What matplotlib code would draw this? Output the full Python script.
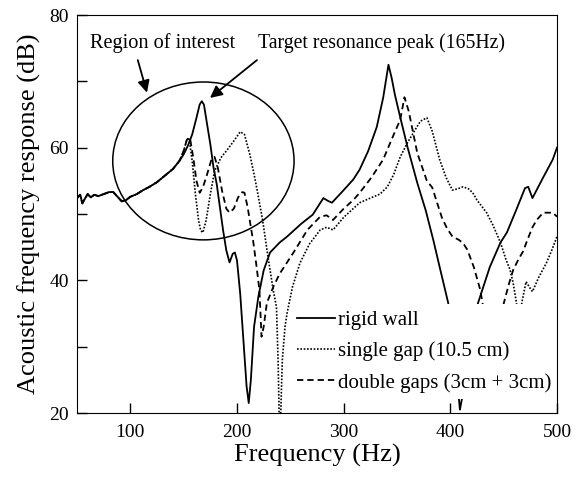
import matplotlib
matplotlib.use('Agg')
import matplotlib.pyplot as plt
from matplotlib.patches import Ellipse
from matplotlib.ticker import MultipleLocator

plt.rcParams['font.family'] = ['Liberation Serif', 'DejaVu Serif']

# low frequency part is common to all three measurements
low_f = [50, 53, 55, 57, 60, 63, 66, 70, 75, 80, 84, 88, 92, 96, 100, 106,
         112, 118, 125, 131, 140, 146]
low_db = [52.4, 52.9, 51.6, 52.2, 53.0, 52.5, 52.9, 52.7, 53.0, 53.3, 53.3,
          52.6, 51.9, 52.1, 52.6, 53.0, 53.6, 54.1, 54.8, 55.6, 56.8, 58.0]

# rigid wall
rigid_f = low_f + [150, 154, 158, 162, 165, 167, 169, 172, 175, 178, 181, 184,
                   187, 190, 193, 196, 198, 200, 203, 206, 209, 211, 213, 216,
                   220, 225, 231, 240, 247, 260, 271, 281, 285, 289, 300, 309,
                   315, 323, 331, 337, 342, 345, 348, 353, 360, 369, 377, 384,
                   390, 398, 404, 409, 413, 419, 426, 437, 447, 453, 462, 470,
                   473, 477, 487, 496, 500]
rigid_db = low_db + [59.0, 60.3, 62.0, 64.5, 66.5, 67.0, 66.5, 63.5, 60.5, 57.0,
                     54.5, 51.0, 47.5, 44.5, 42.7, 44.0, 44.2, 43.0, 38.0, 31.0,
                     24.0, 21.5, 25.0, 33.0, 37.5, 41.5, 44.2, 45.7, 46.6, 48.5,
                     49.9, 52.4, 52.0, 51.7, 53.6, 55.2, 56.7, 59.5, 63.1, 67.5,
                     72.5, 70.5, 68.0, 64.6, 60.0, 54.7, 50.5, 46.1, 42.0, 36.6,
                     29.0, 20.5, 24.0, 31.0, 36.6, 42.0, 45.7, 47.2, 50.7, 53.9,
                     54.1, 52.4, 55.5, 58.2, 60.0]

# single gap (10.5 cm)
single_f = low_f + [150, 153, 155, 158, 161, 164, 166, 168, 171, 175, 179, 185,
                    190, 197, 203, 207, 212, 216, 219, 224, 229, 234, 237, 238.5,
                    239.5, 241, 242.5, 245, 247, 252, 259, 268, 278, 284, 290,
                    300, 315, 328, 334, 341, 347, 353, 360, 367, 372, 378, 383,
                    390, 396, 402, 407, 412, 417, 421, 425, 434, 440, 447, 452,
                    456, 459, 462, 464, 466, 467, 471, 474, 477, 483, 490, 495,
                    500]
single_db = low_db + [59.5, 61.2, 61.5, 58.0, 53.0, 49.0, 47.5, 47.2, 49.0, 53.0,
                      56.5, 58.5, 59.5, 61.0, 62.4, 62.0, 59.0, 56.0, 53.5, 49.1,
                      43.6, 38.5, 36.0, 28.0, 20.0, 20.0, 28.0, 33.0, 35.1, 39.0,
                      42.6, 45.5, 47.6, 48.0, 47.6, 49.5, 51.7, 52.6, 53.0, 54.1,
                      56.0, 58.6, 60.8, 62.7, 64.0, 64.5, 62.5, 58.2, 55.5, 53.6,
                      53.8, 54.1, 53.8, 53.2, 52.1, 50.2, 48.3, 45.7, 43.2, 41.6,
                      39.5, 36.6, 33.0, 33.5, 36.6, 39.8, 39.0, 38.3, 40.5, 42.6,
                      44.5, 46.6]

# double gaps (3cm + 3cm)
double_f = low_f + [150, 153, 156, 159, 162, 165, 168, 172, 176, 179, 182, 186,
                    190, 193, 197, 201, 205, 207, 210, 213, 215, 218, 221, 223,
                    225, 228, 234, 240, 253, 266, 278, 284, 290, 300, 309, 315,
                    326, 337, 347, 353, 357, 361, 369, 378, 383, 388, 392, 397,
                    402, 408, 412, 416, 422, 428, 433, 438, 443, 447, 451, 455,
                    459, 464, 468, 473, 477, 481, 487, 496, 500]
double_db = low_db + [59.5, 61.2, 61.4, 58.5, 55.0, 53.2, 54.0, 56.0, 58.2, 58.6,
                      57.0, 53.5, 50.8, 50.2, 50.8, 52.5, 53.3, 53.2, 51.0, 48.0,
                      46.1, 42.5, 38.6, 31.5, 33.0, 36.6, 39.0, 41.0, 44.2, 47.6,
                      49.6, 49.8, 49.1, 50.8, 52.1, 53.2, 55.5, 58.2, 62.0, 64.2,
                      67.6, 65.5, 59.2, 55.0, 54.0, 51.5, 49.5, 47.8, 46.6, 46.1,
                      45.6, 44.6, 42.0, 38.6, 34.0, 30.5, 31.5, 34.5, 37.1, 39.5,
                      41.6, 43.2, 44.3, 46.4, 48.0, 49.1, 50.2, 50.2, 49.6]

fig = plt.figure(figsize=(5.78, 4.79), dpi=100)
ax = fig.add_axes([77/578, 1-413/479, 480/578, 398/479])

ax.plot(rigid_f, rigid_db, color='k', lw=1.3, label='rigid wall')
ax.plot(single_f, single_db, color='k', lw=1.2, linestyle=(0, (1, 1)),
        label='single gap (10.5 cm)')
ax.plot(double_f, double_db, color='k', lw=1.3, linestyle=(0, (3.5, 2.2)),
        label='double gaps (3cm + 3cm)')

ax.add_patch(Ellipse((168.5, 58.0), 170, 23.8, fill=False, ec='k', lw=1.1))

arrow = dict(arrowstyle='-|>', color='k', lw=1.3, mutation_scale=18,
             shrinkA=0, shrinkB=0)
ax.annotate('', xy=(115.6, 68.3), xytext=(107, 73.2), arrowprops=arrow)
ax.annotate('', xy=(174.7, 67.5), xytext=(218.7, 73.2), arrowprops=arrow)
ax.text(62.2, 75.8, 'Region of interest', fontsize=14.6, va='center', ha='left')
ax.text(219.7, 75.8, 'Target resonance peak (165Hz)', fontsize=14.2,
        va='center', ha='left')

ax.set_xlim(50, 500)
ax.set_ylim(20, 80)
ax.set_xticks([100, 200, 300, 400, 500])
ax.set_yticks([20, 40, 60, 80])
ax.yaxis.set_minor_locator(MultipleLocator(10))
ax.tick_params(which='both', direction='in', length=7, width=1,
               labelsize=14, top=False, right=False)
ax.tick_params(axis='y', pad=6)
ax.tick_params(axis='x', pad=8)

ax.set_xlabel('Frequency (Hz)', fontsize=19, labelpad=2)
ax.set_ylabel('Acoustic frequency response (dB)', fontsize=19, labelpad=6)

leg = ax.legend(loc='upper left', bbox_to_anchor=(0.446, 0.273),
                borderaxespad=0, borderpad=0.3, fontsize=15,
                handlelength=1.8, handletextpad=0.15, labelspacing=0.55,
                frameon=True, fancybox=False, framealpha=1)
leg.get_frame().set_edgecolor('none')
leg.get_frame().set_facecolor('white')
leg.set_zorder(2.3)

fig.savefig('out.png', dpi=100)
